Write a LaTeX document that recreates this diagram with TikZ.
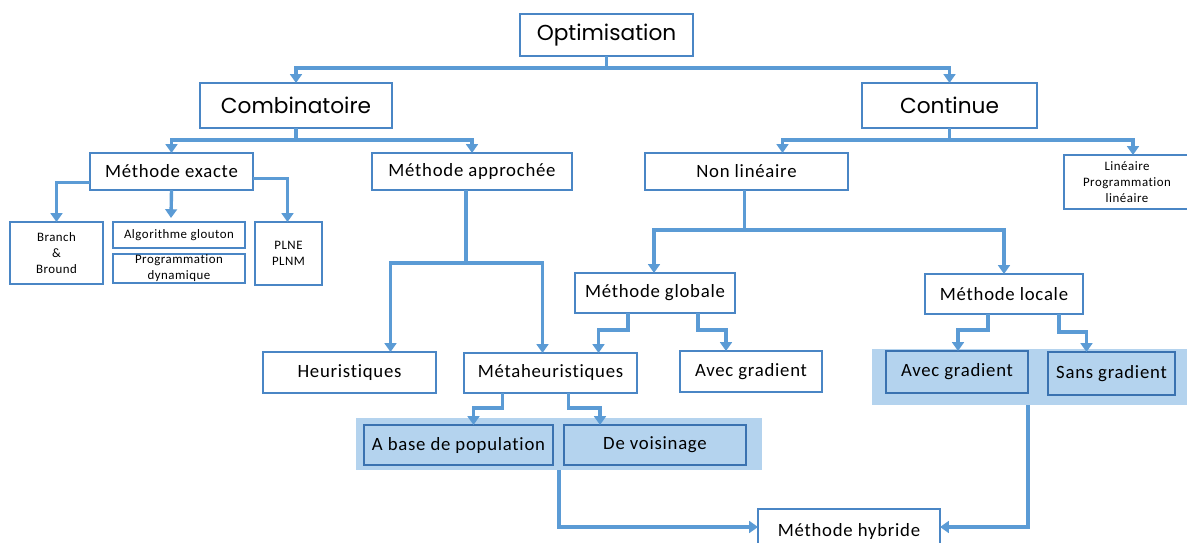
\documentclass[tikz,border=0pt]{standalone}
\usepackage{fontspec}
\setmainfont{Carlito}[LetterSpace=4,Ligatures=NoCommon]
\newfontfamily\gothic{Poppins}
\usetikzlibrary{arrows.meta,calc}
\definecolor{arrblue}{HTML}{5B9BD5}
\definecolor{boxline}{HTML}{4A86C5}
\definecolor{bandfill}{HTML}{B4D3EE}
\definecolor{bandline}{HTML}{3A72B0}
\tikzset{
  box/.style={draw=boxline, line width=1pt, fill=white, inner sep=0pt, outer sep=0pt, align=center, text=black},
  bandbox/.style={box, fill=bandfill, line width=1.1pt, draw=bandline},
  arr/.style={draw=arrblue, line width=2.9pt, -{Triangle[width=10pt,length=7.5pt]}},
  big/.style={font=\gothic\fontsize{18.5}{22}\selectfont},
  mid/.style={font=\fontsize{16}{19}\selectfont},
  small/.style={font=\fontsize{11}{13.5}\selectfont},
}
\newcommand\bx[7]{%
  \pgfmathsetmacro\bw{(#4-#2)*0.03}%
  \pgfmathsetmacro\bh{(#5-#3)*0.03}%
  \node[#7, minimum width=\bw cm, minimum height=\bh cm] (#1) at ({(#2+#4)/2},{(#3+#5)/2}) {#6};}
\begin{document}
\begin{tikzpicture}[x=0.03cm,y=-0.03cm]
\useasboundingbox (0,0) rectangle (1187,543);
\clip (0,0) rectangle (1187,543);
% bands
\fill[bandfill] (356,418) rectangle (762,470);
\fill[bandfill] (872,349) rectangle (1187,405);
% boxes
\bx{opt}{520}{14}{693}{56}{Optimisation}{box,big}
\bx{comb}{200}{83}{392}{128}{Combinatoire}{box,big}
\bx{cont}{862}{83}{1037}{128}{Continue}{box,big}
\bx{mex}{90}{153}{253}{190}{Méthode exacte}{box,mid}
\bx{mapp}{372}{153}{572}{190}{Méthode approchée}{box,mid}
\bx{nlin}{645}{153}{848}{190}{Non linéaire}{box,mid}
\bx{lin}{1064}{155}{1190}{209}{Linéaire\\Programmation\\linéaire}{box,small}
\bx{bb}{10}{222}{103}{284}{Branch\\\&\\Bround}{box,small}
\bx{glou}{113}{222}{245}{248}{Algorithme glouton}{box,small}
\bx{pdyn}{113}{254}{245}{283}{Programmation\\dynamique}{box,small}
\bx{plne}{255}{222}{322}{285}{PLNE\\PLNM}{box,small}
\bx{heur}{263}{352}{436}{393}{Heuristiques}{box,mid}
\bx{meta}{464}{353}{637}{393}{Métaheuristiques}{box,mid}
\bx{mglob}{575}{273}{735}{313}{Méthode globale}{box,mid}
\bx{mloc}{925}{274}{1083}{314}{Méthode locale}{box,mid}
\bx{agg}{680}{351}{822}{392}{Avec gradient}{box,mid}
\bx{pop}{364}{425}{553}{465}{A base de population}{bandbox,mid}
\bx{vois}{564}{425}{746}{465}{De voisinage}{bandbox,mid}
\bx{agl}{886}{351}{1028}{393}{Avec gradient}{bandbox,mid}
\bx{sgl}{1048}{352}{1175}{395}{Sans gradient}{bandbox,mid}
\bx{hyb}{758}{509}{940}{553}{Méthode hybride}{box,mid}
\coordinate (bandL) at (559,470);
\coordinate (bandR) at (1028,405);
% connectors
\draw[arr] (opt.south) -- ++(0,12) -| (comb.north);
\draw[arr] (opt.south) -- ++(0,12) -| (cont.north);
\draw[arr] (comb.south) -- ++(0,12) -| (mex.north);
\draw[arr] (comb.south) -- ++(0,12) -| (mapp.north);
\draw[arr] (cont.south) -- ++(0,12) -| ($(nlin.north)+(36,0)$);
\draw[arr] (cont.south) -- ++(0,12) -| ($(lin.north)+(6,0)$);
\draw[arr] ($(mex.west)+(0,11)$) -| (bb.north);
\draw[arr] (mex.south) -- ($(glou.north)+(-8,-4)$);
\draw[arr] ($(mex.east)+(0,7)$) -| ($(plne.north)+(-1,0)$);
\draw[arr] ($(mapp.south)+(-6,0)$) -- ++(0,73) -| ($(heur.north)+(41,0)$);
\draw[arr] ($(mapp.south)+(-6,0)$) -- ++(0,73) -| ($(meta.north)+(-8,0)$);
\draw[arr] ($(nlin.south)+(-2,0)$) -- ++(0,40) -| ($(mglob.north)+(-1,0)$);
\draw[arr] ($(nlin.south)+(-2,0)$) -- ++(0,40) -| (mloc.north);
\draw[arr] ($(mglob.south)+(-27,0)$) -- ++(0,17) -| ($(meta.north)+(48,0)$);
\draw[arr] ($(mglob.south)+(43,0)$) -- ++(0,17) -| ($(agg.north)+(-25,0)$);
\draw[arr] ($(meta.south)+(-48,0)$) -- ++(0,15) -| ($(pop.north)+(15,0)$);
\draw[arr] ($(meta.south)+(18,0)$) -- ++(0,15) -| ($(vois.north)+(-55,0)$);
\draw[arr] ($(mloc.south)+(-16,0)$) -- ++(0,16) -| ($(agl.north)+(1,0)$);
\draw[arr] ($(mloc.south)+(55,0)$) -- ++(0,18) -| ($(sgl.north)+(-25,0)$);
\draw[arr] (bandL) |- ($(hyb.west)+(0,-4)$);
\draw[arr] (bandR) |- ($(hyb.east)+(0,-4)$);
\end{tikzpicture}
\end{document}
